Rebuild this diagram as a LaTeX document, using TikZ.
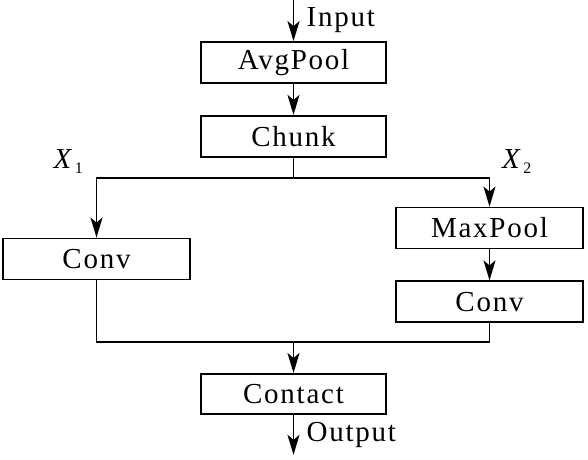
\documentclass[tikz,border=0pt]{standalone}
\usepackage{fontspec}
\setmainfont{Liberation Serif}
\usepackage{tikz}
\usetikzlibrary{
    arrows.meta,
    calc,
    positioning
}
\newcommand{\diagfont}{\fontsize{29}{34}\selectfont\addfontfeature{LetterSpace=6}}
\tikzstyle{block}=[
    rectangle,
    minimum width=185pt,
    minimum height=41pt,
    inner sep=0pt,
    align=center,
    draw=black,
    line width=1.8pt,
    font=\diagfont
]
\tikzstyle{arrow}=[line width=1.8pt,-{Stealth[length=20pt,width=12pt,inset=5pt]}]
\tikzstyle{line}=[line width=1.8pt]
\newcommand{\branchlabel}[2]{\textit{#1}\kern1pt\raisebox{-5pt}{\fontsize{16}{16}\selectfont #2}}

\begin{document}
\begin{tikzpicture}[x=1pt,y=-1pt,node distance=31pt,every node/.style={font=\diagfont}]
\useasboundingbox (0,0) rectangle (588,459);
\coordinate (in) at (293.5,0);
\node[block] (avgpool) at (293.5,62.5) {AvgPool};
\node[block,below=of avgpool] (chunk) {Chunk};
\coordinate[below=20pt of chunk] (split);
\node[block,minimum width=187pt] (conv1) at (96.5,259) {Conv};
\node[block,minimum width=187pt] (maxpool) at (489.5,228) {MaxPool};
\node[block,minimum width=187pt,below=of maxpool] (conv2) {Conv};
\coordinate (join) at (293.5,342);
\node[block,below=of join,minimum height=40pt] (contact) {Contact};
\coordinate[below=40pt of contact] (out);

\draw[arrow] (in) -- node[right=9pt]{Input} (avgpool);
\draw[arrow] (avgpool) -- (chunk);
\draw[line] (chunk) -- (split);
\draw[arrow] (split) -| (conv1);
\draw[arrow] (split) -| (maxpool);
\node[anchor=south east,xshift=-10pt,yshift=1pt] (x1) at (conv1.north |- split) {\branchlabel{X}{1}};
\node[anchor=south west,xshift=9pt,yshift=1pt] (x2) at (maxpool.north |- split) {\branchlabel{X}{2}};
\draw[arrow] (maxpool) -- (conv2);
\draw[line] (conv1) |- (join);
\draw[line] (conv2) |- (join);
\draw[arrow] (join) -- (contact);
\draw[arrow] (contact) -- node[right=9pt]{Output} (out);
\end{tikzpicture}
\end{document}
